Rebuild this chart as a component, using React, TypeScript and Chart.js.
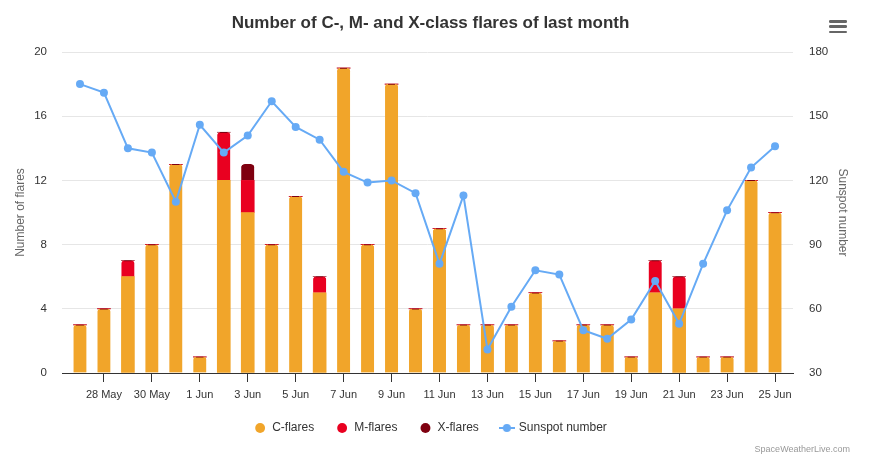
import React, { useEffect, useRef } from "react";
import { Chart, registerables } from "chart.js";

Chart.register(...registerables);

const days = [
  "27 May", "28 May", "29 May", "30 May", "31 May",
  "1 Jun", "2 Jun", "3 Jun", "4 Jun", "5 Jun", "6 Jun", "7 Jun", "8 Jun", "9 Jun", "10 Jun",
  "11 Jun", "12 Jun", "13 Jun", "14 Jun", "15 Jun", "16 Jun", "17 Jun", "18 Jun", "19 Jun", "20 Jun",
  "21 Jun", "22 Jun", "23 Jun", "24 Jun", "25 Jun",
];
const cFlares = [3, 4, 6, 8, 13, 1, 12, 10, 8, 11, 5, 19, 8, 18, 4, 9, 3, 3, 3, 5, 2, 3, 3, 1, 5, 4, 1, 1, 12, 10];
const mFlares = [0, 0, 1, 0, 0, 0, 3, 2, 0, 0, 1, 0, 0, 0, 0, 0, 0, 0, 0, 0, 0, 0, 0, 0, 2, 2, 0, 0, 0, 0];
const xFlares = [0, 0, 0, 0, 0, 0, 0, 1, 0, 0, 0, 0, 0, 0, 0, 0, 0, 0, 0, 0, 0, 0, 0, 0, 0, 0, 0, 0, 0, 0];
const sunspots = [165, 161, 135, 133, 110, 146, 133, 141, 157, 145, 139, 124, 119, 120, 114, 81, 113, 41, 61, 78, 76, 50, 46, 55, 73, 53, 81, 106, 126, 136];

const TITLE = "Number of C-, M- and X-class flares of last month";
const FONT = "'Liberation Sans', Arial, Helvetica, sans-serif";
const C_COLOR = "#f1a52a";
const M_COLOR = "#e90020";
const X_COLOR = "#7f0010";
const S_COLOR = "#66aaf5";

const flareSeries = [cFlares, mFlares, xFlares];
const flareColors = [C_COLOR, M_COLOR, X_COLOR];
const isTopSegment = (d: number, i: number) =>
  flareSeries[d][i] > 0 && flareSeries.slice(d + 1).every((s) => s[i] === 0);

export default function App() {
  const ref = useRef<HTMLCanvasElement | null>(null);

  useEffect(() => {
    if (!ref.current) return;
    const icon = document.createElement("canvas");
    icon.width = 16;
    icon.height = 10;
    const ictx = icon.getContext("2d")!;
    ictx.strokeStyle = S_COLOR;
    ictx.lineWidth = 2;
    ictx.beginPath();
    ictx.moveTo(0, 5);
    ictx.lineTo(16, 5);
    ictx.stroke();
    ictx.fillStyle = S_COLOR;
    ictx.beginPath();
    ictx.arc(8, 5, 4, 0, Math.PI * 2);
    ictx.fill();

    const BAR_W = 13;

    const barBorder = (ctx: any) =>
      ctx.type === "data" && isTopSegment(ctx.datasetIndex, ctx.dataIndex)
        ? { top: 1, right: 0, bottom: 0, left: 0 }
        : 0;

    const barBorderColor = (ctx: any) => {
      const base = flareColors[ctx.datasetIndex] || X_COLOR;
      if (ctx.type !== "data") return X_COLOR;
      const xs = ctx.chart.scales && ctx.chart.scales.x;
      if (!xs) return X_COLOR;
      const px = xs.getPixelForValue(ctx.dataIndex);
      if (!isFinite(px)) return X_COLOR;
      const g = ctx.chart.ctx.createLinearGradient(px - BAR_W / 2, 0, px + BAR_W / 2, 0);
      g.addColorStop(0, base);
      g.addColorStop(0.2, base);
      g.addColorStop(0.23, X_COLOR);
      g.addColorStop(0.77, X_COLOR);
      g.addColorStop(0.8, base);
      g.addColorStop(1, base);
      return g;
    };

    const toXY = (arr: number[]) => arr.map((v, i) => ({ x: i, y: v }));

    const barCommon = {
      type: "bar" as const,
      yAxisID: "y",
      order: 1,
      barThickness: BAR_W,
      borderRadius: 3.5,
      borderColor: barBorderColor,
      borderWidth: barBorder,
      borderSkipped: "start" as const,
    };

    const chart = new Chart(ref.current, {
      type: "bar",
      data: {
        datasets: [
          { ...barCommon, label: "C-flares", data: toXY(cFlares), backgroundColor: C_COLOR },
          { ...barCommon, label: "M-flares", data: toXY(mFlares), backgroundColor: M_COLOR },
          { ...barCommon, label: "X-flares", data: toXY(xFlares), backgroundColor: X_COLOR },
          {
            type: "line",
            label: "Sunspot number",
            data: toXY(sunspots),
            yAxisID: "y1",
            order: 0,
            borderColor: S_COLOR,
            backgroundColor: S_COLOR,
            borderWidth: 2,
            pointRadius: 4,
            pointBorderWidth: 0,
            pointBackgroundColor: S_COLOR,
            tension: 0,
          } as any,
        ],
      },
      options: {
        animation: false,
        responsive: true,
        maintainAspectRatio: false,
        layout: { padding: { top: 0, bottom: 18, left: 0, right: 10 } },
        plugins: {
          title: {
            display: true,
            text: TITLE,
            color: "#333333",
            font: { family: FONT, size: 17, weight: "bold" },
            padding: { top: 12.8, bottom: 18.8 },
          },
          legend: {
            position: "bottom",
            labels: {
              usePointStyle: true,
              boxWidth: 14,
              boxHeight: 7,
              padding: 22,
              color: "#333333",
              font: { family: FONT, size: 12 },
              generateLabels: (ch: any) => {
                const items = Chart.defaults.plugins.legend.labels.generateLabels(ch);
                items.forEach((it: any) => {
                  it.lineWidth = 0;
                  it.strokeStyle = "rgba(0,0,0,0)";
                  it.pointStyle = it.datasetIndex === 3 ? icon : "circle";
                });
                return items;
              },
              sort: (a: any, b: any) => a.datasetIndex - b.datasetIndex,
            },
          },
          tooltip: { enabled: false },
        },
        scales: {
          x: {
            type: "linear",
            stacked: true,
            offset: false,
            min: -0.75,
            max: 29.75,
            afterBuildTicks: (scale: any) => {
              scale.ticks = days.map((_, i) => ({ value: i }));
            },
            afterFit: (scale: any) => {
              scale.height = 27;
            },
            ticks: {
              autoSkip: false,
              maxRotation: 0,
              minRotation: 0,
              padding: 6,
              color: "#333333",
              font: { family: FONT, size: 11 },
              callback: (v: any) => {
                const i = Number(v);
                return Number.isInteger(i) && i % 2 === 1 ? days[i] : "";
              },
            },
            grid: {
              offset: false,
              drawOnChartArea: false,
              drawTicks: true,
              tickLength: 9,
              color: (ctx: any) =>
                ctx.tick && Number.isInteger(ctx.tick.value) && ctx.tick.value % 2 === 1
                  ? "#333333"
                  : "rgba(0,0,0,0)",
            },
            border: { display: true, color: "#333333", width: 1 },
          },
          y: {
            type: "linear",
            position: "left",
            stacked: true,
            min: 0,
            max: 20,
            afterFit: (scale: any) => {
              scale.width = 62;
            },
            ticks: {
              stepSize: 4,
              padding: 15,
              color: "#333333",
              font: { family: FONT, size: 11.5 },
            },
            grid: { color: "#e6e6e6", drawTicks: false },
            border: { display: false },
            title: {
              display: true,
              text: "Number of flares",
              color: "#666666",
              font: { family: FONT, size: 12 },
              padding: { top: 13.8, bottom: 0 },
            },
          },
          y1: {
            type: "linear",
            position: "right",
            min: 30,
            max: 180,
            afterFit: (scale: any) => {
              scale.width = 68;
            },
            ticks: {
              stepSize: 30,
              padding: 16,
              color: "#333333",
              font: { family: FONT, size: 11.5 },
            },
            grid: { drawOnChartArea: false, drawTicks: false },
            border: { display: false },
            title: {
              display: true,
              text: "Sunspot number",
              color: "#666666",
              font: { family: FONT, size: 12 },
              padding: { top: 11.8, bottom: 0 },
            },
          },
        },
      } as any,
    });
    return () => chart.destroy();
  }, []);

  const bar: React.CSSProperties = {
    position: "absolute",
    left: 0,
    width: 18,
    height: 2.7,
    borderRadius: 1.3,
    background: "#666666",
  };

  return (
    <div style={{ position: "absolute", left: 0, top: 0, width: 871, height: 462, background: "#ffffff" }}>
      <canvas ref={ref} />
      <div style={{ position: "absolute", left: 829, top: 20, width: 18, height: 14 }}>
        <div style={{ ...bar, top: 0 }} />
        <div style={{ ...bar, top: 5.3 }} />
        <div style={{ ...bar, top: 10.6 }} />
      </div>
      <div
        style={{
          position: "absolute",
          right: 21,
          top: 443,
          fontFamily: FONT,
          fontSize: 9,
          lineHeight: "12px",
          color: "#999999",
        }}
      >
        SpaceWeatherLive.com
      </div>
    </div>
  );
}
